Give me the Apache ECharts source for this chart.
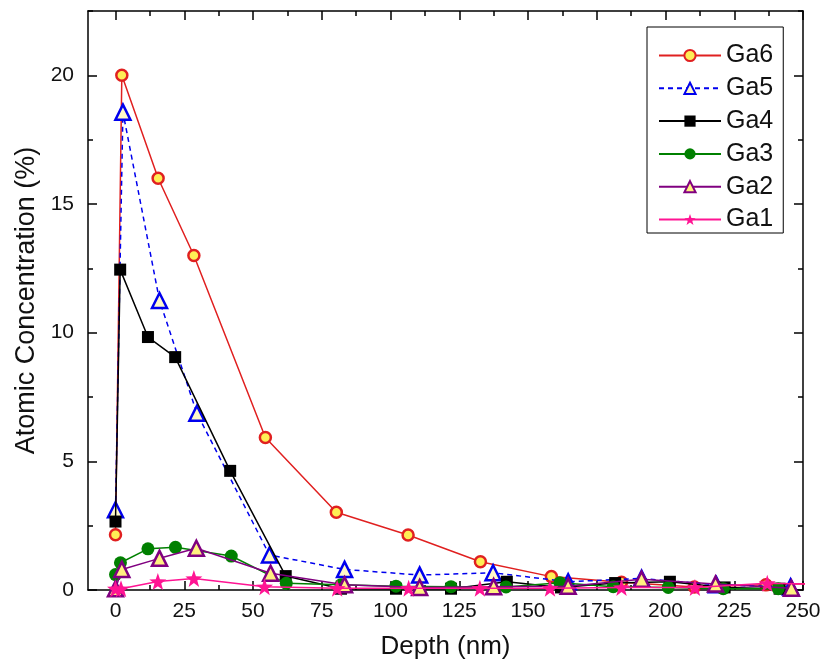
<!DOCTYPE html>
<html>
<head>
<meta charset="utf-8">
<script src="https://cdn.jsdelivr.net/npm/echarts@6/dist/echarts.min.js"></script>
<style>html,body{margin:0;padding:0;background:#fff}#c{width:824px;height:669px}</style>
</head>
<body>
<div id="c"></div>
<script>
var seriesNames = ['Ga6', 'Ga5', 'Ga4', 'Ga3', 'Ga2', 'Ga1'];
var xMajorTicks = [0, 25, 50, 75, 100, 125, 150, 175, 200, 225, 250];
var xMinorTicks = [12.5, 37.5, 62.5, 87.5, 112.5, 137.5, 162.5, 187.5, 212.5, 237.5];
var yMajorTicks = [0, 5, 10, 15, 20];
var yMinorTicks = [2.5, 7.5, 12.5, 17.5, 22.5];

var ga6Depth = [0, 2.3, 15.5, 28.5, 54.5, 80.3, 106.4, 132.7, 158.5, 184, 210.5, 236.5, 262];
var ga6Conc  = [2.15, 20.0, 16.0, 13.0, 5.93, 3.02, 2.14, 1.1, 0.52, 0.3, 0.12, 0.2, 0.28];
var ga5Depth = [0, 2.7, 16, 29.6, 56, 83.3, 110.6, 137.3, 164.6, 191.3, 218.5, 245.5];
var ga5Conc  = [3.12, 18.57, 11.25, 6.87, 1.36, 0.8, 0.58, 0.67, 0.32, 0.45, 0.2, 0.12];
var ga4Depth = [0, 1.7, 11.8, 21.7, 41.7, 61.9, 82, 102, 122, 142.3, 162, 181.7, 201.6, 221.5, 241.5];
var ga4Conc  = [2.66, 12.45, 9.83, 9.05, 4.63, 0.54, 0.05, 0.05, 0.05, 0.32, 0.1, 0.27, 0.32, 0.1, 0.05];
var ga3Depth = [0, 1.8, 11.8, 21.8, 42.1, 62.1, 82, 102, 122, 142, 161.6, 181, 201, 221, 241];
var ga3Conc  = [0.6, 1.06, 1.6, 1.66, 1.32, 0.26, 0.2, 0.15, 0.13, 0.12, 0.28, 0.13, 0.1, 0.05, 0.05];
var ga2Depth = [0, 2.3, 16, 29.4, 56.4, 83.3, 110.6, 137.5, 164.6, 191.3, 218.2, 245.8];
var ga2Conc  = [0.05, 0.8, 1.23, 1.62, 0.65, 0.2, 0.1, 0.13, 0.15, 0.42, 0.23, 0.07];
var ga1Depth = [0, 2, 15.4, 28.5, 54.2, 80.6, 106.6, 132.5, 158, 184, 210.7, 237, 263];
var ga1Conc  = [0.05, 0.05, 0.33, 0.45, 0.13, 0.07, 0.07, 0.07, 0.07, 0.1, 0.1, 0.26, 0.2];

function zip(a, b) { return a.map(function (v, i) { return [v, b[i]]; }); }

var FONT = 'Liberation Sans, Arial, sans-serif';
var chart = echarts.init(document.getElementById('c'), null, {renderer: 'canvas'});

function xAx(pos, ticks, len, main) {
  return {
    type: 'value', position: pos, min: -10, max: 250, gridIndex: 0,
    axisLine: {show: main, onZero: false, lineStyle: {color: '#000', width: 1.5}},
    axisTick: {show: true, inside: true, length: len, customValues: ticks, lineStyle: {color: '#000', width: 1.5}},
    axisLabel: (main && pos === 'bottom') ? {show: true, customValues: xMajorTicks, fontSize: 21, color: '#111', fontFamily: FONT, margin: 11} : {show: false},
    splitLine: {show: false},
    name: (main && pos === 'bottom') ? 'Depth (nm)' : '',
    nameLocation: 'middle', nameGap: 44,
    nameTextStyle: {fontSize: 26, color: '#111', fontFamily: FONT}
  };
}
function yAx(pos, ticks, len, main) {
  return {
    type: 'value', position: pos, min: 0, max: 22.5, gridIndex: 0,
    axisLine: {show: main, onZero: false, lineStyle: {color: '#000', width: 1.5}},
    axisTick: {show: true, inside: true, length: len, customValues: ticks, lineStyle: {color: '#000', width: 1.5}},
    axisLabel: (main && pos === 'left') ? {show: true, customValues: yMajorTicks, fontSize: 21, color: '#111', fontFamily: FONT, margin: 14} : {show: false},
    splitLine: {show: false},
    name: (main && pos === 'left') ? 'Atomic Concentration (%)' : '',
    nameLocation: 'middle', nameGap: 43,
    nameTextStyle: {fontSize: 27, color: '#111', fontFamily: FONT}
  };
}

var styles = [
  {color: '#e02020', symbol: 'circle', size: 11, fill: '#ffee55', border: '#e02020', bw: 2.5, dash: 'solid'},
  {color: '#0000ee', symbol: 'triangle', size: 15, fill: '#fff8c8', border: '#0000ee', bw: 2.5, dash: [5, 4]},
  {color: '#000000', symbol: 'rect', size: 12, fill: '#000000', border: '#000000', bw: 0, dash: 'solid'},
  {color: '#008000', symbol: 'circle', size: 13, fill: '#008000', border: '#008000', bw: 0, dash: 'solid'},
  {color: '#800080', symbol: 'triangle', size: 15, fill: '#fff080', border: '#800080', bw: 2.5, dash: 'solid'},
  {color: '#ff1493', symbol: 'path://M0,-10L2.35,-3.24L9.51,-3.09L3.8,1.24L5.88,8.09L0,4L-5.88,8.09L-3.8,1.24L-9.51,-3.09L-2.35,-3.24Z', size: 17, fill: '#ff1493', border: '#ff1493', bw: 0, dash: 'solid'}
];
var datas = [zip(ga6Depth, ga6Conc), zip(ga5Depth, ga5Conc), zip(ga4Depth, ga4Conc),
             zip(ga3Depth, ga3Conc), zip(ga2Depth, ga2Conc), zip(ga1Depth, ga1Conc)];

var series = seriesNames.map(function (n, i) {
  var s = styles[i];
  return {
    name: n, type: 'line', data: datas[i], xAxisIndex: 0, yAxisIndex: 0,
    symbol: s.symbol, symbolSize: s.size, showAllSymbol: true, clip: true,
    lineStyle: {color: s.color, width: 1.5, type: s.dash},
    itemStyle: {color: s.fill, borderColor: s.border, borderWidth: s.bw},
    emphasis: {disabled: true}, animation: false, z: 2 + i
  };
});

chart.setOption({
  animation: false,
  backgroundColor: '#fff',
  grid: {left: 88, right: 21, top: 11, bottom: 79, containLabel: false},
  xAxis: [xAx('bottom', xMajorTicks, 9, true), xAx('bottom', xMinorTicks, 5, false),
          xAx('top', xMajorTicks, 9, true), xAx('top', xMinorTicks, 5, false)],
  yAxis: [yAx('left', yMajorTicks, 9, true), yAx('left', yMinorTicks, 5, false),
          yAx('right', yMajorTicks, 9, true), yAx('right', yMinorTicks, 5, false)],
  legend: {
    orient: 'vertical', left: 647, top: 27, width: 144,
    padding: [16, 10, 1, 11], itemGap: 7.8, itemWidth: 62, itemHeight: 14,
    backgroundColor: '#fff', borderColor: '#000', borderWidth: 1,
    textStyle: {fontSize: 25, color: '#111', fontFamily: FONT},
    data: seriesNames
  },
  series: series
});
</script>
</body>
</html>
